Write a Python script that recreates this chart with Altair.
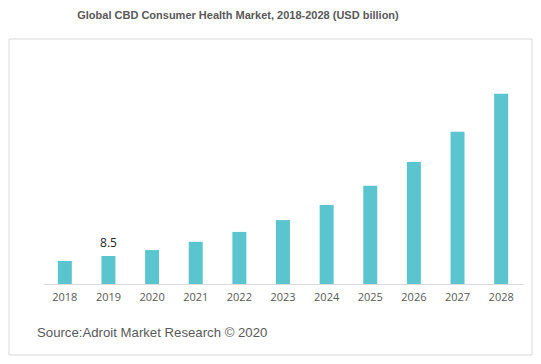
import altair as alt
import pandas as pd

years = ["2018", "2019", "2020", "2021", "2022", "2023", "2024", "2025", "2026", "2027", "2028"]
values = [7.0, 8.5, 10.3, 12.8, 15.8, 19.4, 24.0, 29.8, 37.0, 46.2, 57.7]
label_year = "2019"
label_text = "8.5"
title_text = "Global CBD Consumer Health Market, 2018-2028 (USD billion)"
source_text = "Source:Adroit Market Research © 2020"

df = pd.DataFrame({"year": years, "value": values})
df["label"] = [label_text if y == label_year else "" for y in years]
one = pd.DataFrame({"a": [0]})

W, H = 480, 234

xenc = alt.X("year:N", sort=years, title=None,
             scale=alt.Scale(paddingInner=0.68, paddingOuter=0.34),
             axis=alt.Axis(labelAngle=0, ticks=False, domainColor="#d9d9d9", domainWidth=1,
                           labelFont="Open Sans", labelFontSize=11, labelColor="#595959",
                           labelPadding=7, grid=False, zindex=1))
yenc = alt.Y("value:Q", scale=alt.Scale(domain=[0, 71], nice=False, zero=True), axis=None)

frame = alt.Chart(one).mark_rect(fill="white", stroke="#d9d9d9", strokeWidth=1).encode(
    x=alt.value(-34), x2=alt.value(489), y=alt.value(-11), y2=alt.value(305))

bars = alt.Chart(df).mark_bar(color="#5BC5CF").encode(x=xenc, y=yenc)

labels = alt.Chart(df).mark_text(font="Open Sans", fontSize=12, color="#262626", dy=-6,
                                 baseline="bottom").encode(
    x=alt.X("year:N", sort=years), y=alt.Y("value:Q"), text="label:N")

title = alt.Chart(one).mark_text(text=title_text, font="Liberation Sans", fontSize=11,
                                 fontWeight="bold", color="#595959", align="center",
                                 baseline="middle").encode(
    x=alt.value(195), y=alt.value(-34))

source = alt.Chart(one).mark_text(text=source_text, font="Liberation Sans", fontSize=13.2,
                                  color="#595959", align="left", baseline="middle").encode(
    x=alt.value(-6), y=alt.value(283))

chart = alt.layer(frame, bars, labels, title, source).properties(
    width=W, height=H,
    autosize=alt.AutoSizeParams(type="none"),
    padding={"left": 35, "top": 42, "right": 10, "bottom": 72},
    background="white",
).configure_view(stroke=None)

chart.save("out.html", embed_options={"renderer": "svg", "actions": False})
